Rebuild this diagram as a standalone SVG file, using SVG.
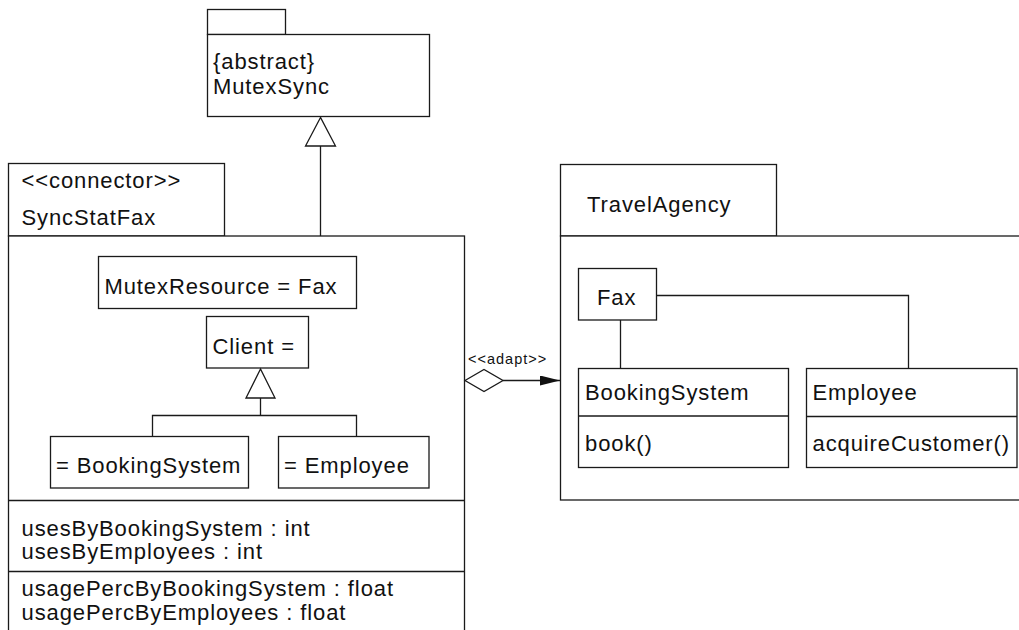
<svg xmlns="http://www.w3.org/2000/svg" width="1019" height="630" viewBox="0 0 1019 630">
  <style>
    .box { fill: #ffffff; stroke: #1a1a1a; stroke-width: 1.3; }
    .ln { fill: none; stroke: #1a1a1a; stroke-width: 1.3; }
    .tri { fill: #ffffff; stroke: #1a1a1a; stroke-width: 1.3; }
    .t { font-family: "Liberation Sans", Arial, sans-serif; font-size: 22px; letter-spacing: 0.9px; fill: #111111; }
    .s { font-family: "Liberation Sans", Arial, sans-serif; font-size: 14.5px; letter-spacing: 1px; fill: #111111; }
  </style>
  <defs>
    <marker id="arrowFilled" viewBox="0 0 20 10" refX="20" refY="5" markerWidth="20" markerHeight="10" markerUnits="userSpaceOnUse" orient="auto">
      <path d="M0,0 L20,5 L0,10 Z" fill="#111111"/>
    </marker>
  </defs>

  <rect width="1019" height="630" fill="#ffffff"/>

  <!-- abstract connector MutexSync -->
  <g id="mutexsync">
    <rect class="box" x="207.5" y="9.5" width="78" height="25"/>
    <rect class="box" x="207.5" y="34.5" width="222" height="82"/>
    <text class="t" x="213" y="69">{abstract}</text>
    <text class="t" x="213" y="93.5">MutexSync</text>
  </g>

  <!-- SyncStatFax connector package -->
  <g id="syncstatfax">
    <rect class="box" x="8.5" y="163.5" width="216" height="72.5"/>
    <rect class="box" x="8.5" y="236" width="456" height="410"/>
    <text class="t" x="21.5" y="188">&lt;&lt;connector&gt;&gt;</text>
    <text class="t" x="21.5" y="225">SyncStatFax</text>
    <line class="ln" x1="8.5" y1="500.5" x2="464.5" y2="500.5"/>
    <line class="ln" x1="8.5" y1="571.5" x2="464.5" y2="571.5"/>
    <text class="t" x="21.5" y="535.5">usesByBookingSystem : int</text>
    <text class="t" x="21.5" y="559">usesByEmployees : int</text>
    <text class="t" x="21.5" y="596">usagePercByBookingSystem : float</text>
    <text class="t" x="21.5" y="619.5">usagePercByEmployees : float</text>
  </g>

  <g id="mutexresource">
    <rect class="box" x="98.5" y="256.5" width="258" height="52"/>
    <text class="t" x="104.5" y="293.5">MutexResource = Fax</text>
  </g>

  <g id="client">
    <rect class="box" x="206.5" y="316.5" width="102" height="51.5"/>
    <text class="t" x="212.5" y="353.5">Client =</text>
  </g>

  <g id="client-bookingsystem">
    <rect class="box" x="50.5" y="436.5" width="198" height="51.5"/>
    <text class="t" x="56" y="472.5">= BookingSystem</text>
  </g>

  <g id="client-employee">
    <rect class="box" x="278.5" y="436.5" width="150.5" height="51.5"/>
    <text class="t" x="284" y="472.5">= Employee</text>
  </g>

  <!-- TravelAgency package -->
  <g id="travelagency">
    <rect class="box" x="560.5" y="164.5" width="216" height="71.5"/>
    <rect class="box" x="560.5" y="236" width="480" height="264"/>
    <text class="t" x="587" y="211.5">TravelAgency</text>
  </g>

  <g id="fax">
    <rect class="box" x="578.5" y="268.5" width="78" height="51.5"/>
    <text class="t" x="597" y="304.5">Fax</text>
  </g>

  <g id="bookingsystem">
    <rect class="box" x="578.5" y="368.5" width="210" height="99"/>
    <line class="ln" x1="578.5" y1="416" x2="788.5" y2="416"/>
    <text class="t" x="585" y="400">BookingSystem</text>
    <text class="t" x="585" y="451">book()</text>
  </g>

  <g id="employee">
    <rect class="box" x="806.5" y="368.5" width="210.5" height="99"/>
    <line class="ln" x1="806.5" y1="416.5" x2="1017" y2="416.5"/>
    <text class="t" x="812.5" y="400">Employee</text>
    <text class="t" x="812.5" y="450.5">acquireCustomer()</text>
  </g>

  <!-- connectors -->
  <g id="connectors">
    <!-- SyncStatFax specialises MutexSync -->
    <line class="ln" x1="320.5" y1="146" x2="320.5" y2="236"/>
    <polygon class="tri" points="320.5,117.5 305.5,146 335.5,146"/>

    <!-- role bindings specialise Client -->
    <polyline class="ln" points="152.5,436.5 152.5,415.5 356.5,415.5 356.5,436.5"/>
    <line class="ln" x1="260.5" y1="398" x2="260.5" y2="415.5"/>
    <polygon class="tri" points="260.5,369 246,398 275,398"/>

    <!-- adapt relation -->
    <polygon class="tri" points="465,380.5 484,369.5 503,380.5 484,391.5"/>
    <line class="ln" x1="503" y1="380.5" x2="560" y2="380.5" marker-end="url(#arrowFilled)"/>
    <text class="s" x="468" y="364">&lt;&lt;adapt&gt;&gt;</text>

    <!-- Fax associations -->
    <line class="ln" x1="620.5" y1="320" x2="620.5" y2="368.5"/>
    <polyline class="ln" points="656.5,295.5 908.5,295.5 908.5,368.5"/>
  </g>
</svg>
